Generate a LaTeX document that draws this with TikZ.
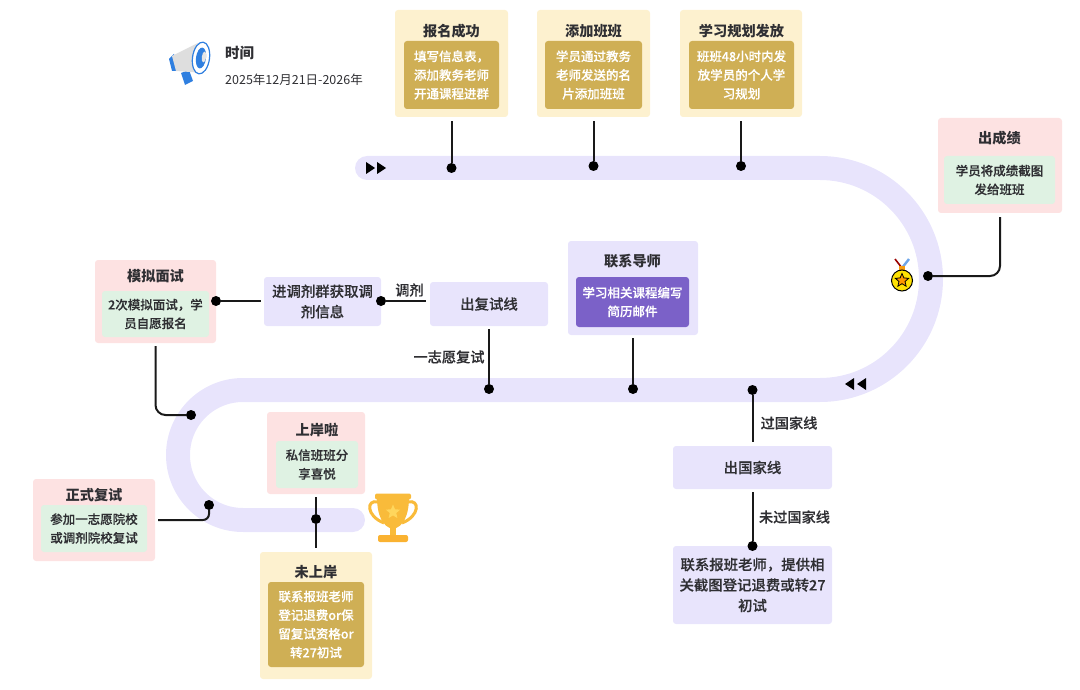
\documentclass[tikz,border=0pt]{standalone}
\usepackage{fontspec}
\setmainfont{Noto Sans CJK SC}
\newfontfamily\medfont{Noto Sans CJK SC Medium}[FakeBold=0.25]
\usepackage{xcolor}
\usetikzlibrary{positioning,shapes.geometric}
\definecolor{creamfill}{HTML}{FDF1CF}
\definecolor{goldfill}{HTML}{CFAF55}
\definecolor{rosefill}{HTML}{FDE2E2}
\definecolor{mintfill}{HTML}{DFF2E3}
\definecolor{lilacfill}{HTML}{E8E4FC}
\definecolor{violetfill}{HTML}{7B61C8}
\definecolor{inkgray}{HTML}{2F2F33}
\definecolor{cupgold}{HTML}{F9BB3A}
\definecolor{cuplight}{HTML}{FFD65C}
\definecolor{hornblue}{HTML}{2F7FE0}
\tikzset{
  panel/.style={rounded corners=3pt, inner sep=0pt},
  cream/.style={panel, fill=creamfill},
  rose/.style={panel, fill=rosefill},
  lilac/.style={panel, fill=lilacfill, align=center, text=inkgray, font=\fontsize{14.4}{20.5}\selectfont\medfont},
  body/.style={rounded corners=3pt, inner sep=0pt, align=center, font=\fontsize{12.5}{18.7}\selectfont\medfont},
  goldbody/.style={body, fill=goldfill, text=white},
  mintbody/.style={body, fill=mintfill, text=inkgray},
  violetbody/.style={body, fill=violetfill, text=white},
  boxtitle/.style={inner sep=0pt, text=inkgray, font=\fontsize{14.2}{16}\selectfont\bfseries},
  flowlabel/.style={inner sep=0pt, text=inkgray, font=\fontsize{14.2}{16}\selectfont\medfont},
  link/.style={line width=2pt, black!90},
  dot/.style={circle, fill=black, minimum size=10pt, inner sep=0pt},
  track/.style={line width=24pt, lilacfill, line cap=round}
}
\begin{document}
\begin{tikzpicture}[x=1pt,y=-1pt]
\useasboundingbox (0,0) rectangle (1080,690);
\draw[track] (367,168) -- (820,168) arc (-90:90:111) -- (243,390) arc (-90:-270:65) -- (353,520);
\foreach \x in {366,377} \fill[black] (\x,162) -- (\x+9,168) -- (\x,174) -- cycle;
\foreach \x in {854,866} \fill[black] (\x,378) -- (\x-9,384) -- (\x,390) -- cycle;

\node[cream, minimum width=113pt, minimum height=107pt] (signup) at (451.5,63.5) {};
\node[goldbody, minimum width=95pt, minimum height=68pt] (signupbody) at (451.5,75) {填写信息表，\\添加教务老师\\开通课程进群};
\node[boxtitle, above=3pt of signupbody] (signuptitle) {报名成功};
\node[cream, minimum width=113pt, minimum height=107pt] (addtutor) at (593.5,63.5) {};
\node[goldbody, minimum width=97pt, minimum height=68pt] (addtutorbody) at (593.5,75) {学员通过教务\\老师发送的名\\片添加班班};
\node[boxtitle, above=3pt of addtutorbody] (addtutortitle) {添加班班};
\node[cream, minimum width=122pt, minimum height=107pt] (plan) at (741,63.5) {};
\node[goldbody, minimum width=105pt, minimum height=68pt] (planbody) at (741.5,75) {班班48小时内发\\放学员的个人学\\习规划};
\node[boxtitle, above=3pt of planbody] (plantitle) {学习规划发放};

\node[rose, minimum width=124pt, minimum height=95pt] (score) at (1000,165.5) {};
\node[mintbody, minimum width=111pt, minimum height=48pt] (scorebody) at (999.5,180) {学员将成绩截图\\发给班班};
\node[boxtitle, above=11pt of scorebody] (scoretitle) {出成绩};

\node[panel, fill=lilacfill, minimum width=130pt, minimum height=94pt] (mentor) at (633,288) {};
\node[violetbody, minimum width=113pt, minimum height=50pt] (mentorbody) at (632.5,302) {学习相关课程编写\\简历邮件};
\node[boxtitle, above=9pt of mentorbody] (mentortitle) {联系导师};

\node[lilac, minimum width=118pt, minimum height=44pt] (retest) at (489,304) {出复试线};
\node[lilac, minimum width=117pt, minimum height=49pt] (adjust) at (322.5,301.5) {进调剂群获取调\\剂信息};
\node[rose, minimum width=121pt, minimum height=83pt] (mock) at (155.5,301.5) {};
\node[mintbody, minimum width=107pt, minimum height=46pt] (mockbody) at (155.5,314) {2次模拟面试，学\\员自愿报名};
\node[boxtitle, above=8pt of mockbody] (mocktitle) {模拟面试};

\node[rose, minimum width=98pt, minimum height=82pt] (ashore) at (316,453) {};
\node[mintbody, minimum width=82pt, minimum height=47pt] (ashorebody) at (317,464.5) {私信班班分\\享喜悦};
\node[boxtitle, above=4pt of ashorebody] (ashoretitle) {上岸啦};
\node[cream, minimum width=112pt, minimum height=127pt] (notashore) at (316,615.5) {};
\node[goldbody, minimum width=96pt, minimum height=85pt] (notashorebody) at (316,624.5) {联系报班老师\\登记退费or保\\留复试资格or\\转27初试};
\node[boxtitle, above=3pt of notashorebody] (notashoretitle) {未上岸};
\node[rose, minimum width=122pt, minimum height=82pt] (formal) at (94,520) {};
\node[mintbody, minimum width=106pt, minimum height=47pt] (formalbody) at (94,528.5) {参加一志愿院校\\或调剂院校复试};
\node[boxtitle, above=3pt of formalbody] (formaltitle) {正式复试};

\node[lilac, minimum width=159pt, minimum height=43pt] (national) at (752.5,467.5) {出国家线};
\node[lilac, minimum width=159pt, minimum height=78pt] (refund) at (752.5,585) {联系报班老师，提供相\\关截图登记退费或转27\\初试};

\node[flowlabel] (adjustlabel) at (409.5,290) {调剂};
\node[flowlabel] (firstlabel) at (449,357) {一志愿复试};
\node[flowlabel] (passlabel) at (789,423) {过国家线};
\node[flowlabel] (faillabel) at (794.5,517) {未过国家线};

\node[dot] (signupdot) at (451.5,168) {};
\node[dot] (addtutordot) at (593.5,166) {};
\node[dot] (plandot) at (741,166) {};
\node[dot] (scoredot) at (928,276) {};
\node[dot] (mentordot) at (633,389) {};
\node[dot] (retestdot) at (489,389) {};
\node[dot] (passdot) at (752.5,390) {};
\node[dot] (refunddot) at (752.5,546) {};
\node[dot] (adjustdot) at (381,301) {};
\node[dot] (mockdot) at (216,301) {};
\node[dot] (turndot) at (191,415) {};
\node[dot] (formaldot) at (209,505) {};
\node[dot] (ashoredot) at (316,519) {};
\coordinate (adjustend) at (426,301);
\coordinate (mockend) at (261,301);

\draw[link, shorten <=4pt] (signup.south) -- (signupdot);
\draw[link, shorten <=4pt] (addtutor.south) -- (addtutordot);
\draw[link, shorten <=4pt] (plan.south) -- (plandot);
\draw[link, shorten <=4pt, rounded corners=10pt] (score.south) |- (scoredot);
\draw[link, shorten <=3pt] (mentor.south) -- (mentordot);
\draw[link, shorten <=3pt] (retest.south) -- (retestdot);
\draw[link] (adjustdot) -- (adjustend);
\draw[link] (mockdot) -- (mockend);
\draw[link, shorten <=3pt, rounded corners=10pt] (mock.south) |- (turndot);
\draw[link, shorten <=3pt, rounded corners=6pt] (formal.east) -| (formaldot);
\draw[link, shorten <=3pt] (ashore.south) -- (ashoredot);
\draw[link, shorten >=4pt] (ashoredot) -- (notashore.north);
\draw[link, shorten >=4pt] (passdot) -- (national.north);
\draw[link, shorten <=3pt] (national.south) -- (refunddot);

\node[inner sep=0pt, anchor=west, text=inkgray, font=\fontsize{14.5}{16}\selectfont\bfseries] (timetitle) at (225,53) {时间};
\node[inner sep=0pt, anchor=west, text=inkgray, font=\fontsize{12.5}{16}\selectfont] (timetext) at (225,80) {2025年12月21日-2026年};

\fill[hornblue] (169,59) -- (174,54) -- (179,71) -- (172,71) -- cycle;
\fill[hornblue] (181,73) -- (189,70) -- (193,81) -- (185,85) -- cycle;
\fill[black!13] (172,56) -- (198,43) -- (204,73) -- (176,71) -- cycle;
\fill[white, rotate around={-8:(201,58)}] (201,58) ellipse [x radius=8.5, y radius=16];
\draw[hornblue, line width=1.2pt, rotate around={-8:(201,58)}] (201,58) ellipse [x radius=8.5, y radius=16];
\fill[hornblue, rotate around={-8:(201,58)}] (201,58) ellipse [x radius=5, y radius=10.5];
\fill[black!10, rotate around={-8:(204,57)}] (204,57) ellipse [x radius=2.2, y radius=5.5];

\draw[cupgold, line width=3pt] (378,502) .. controls (366,499) and (366,516) .. (384,523);
\draw[cupgold, line width=3pt] (408,502) .. controls (420,499) and (420,516) .. (402,523);
\fill[cupgold] (377,497) -- (409,497) .. controls (409,516) and (403,527) .. (393,529) .. controls (383,527) and (377,516) .. (377,497) -- cycle;
\fill[cupgold, rounded corners=2pt] (375,493.5) rectangle (411,499.5);
\fill[cupgold] (390,527) rectangle (396,536);
\fill[cupgold!85!orange, rounded corners=2pt] (378,535) rectangle (408,542);
\node[star, star points=5, star point ratio=2.2, fill=cuplight, minimum size=15pt, inner sep=0pt] (cupstar) at (393,512) {};

\draw[red!60!black, line width=1.6pt] (895,259) -- (902,268);
\draw[hornblue!70, line width=2.4pt] (909,259) -- (902,268);
\fill[yellow!20!orange] (899,266) rectangle (905,272);
\draw[black, line width=1pt, fill=yellow!85!orange] (902,280.5) circle (10.5);
\node[star, star points=5, star point ratio=2.2, draw=black, line width=0.8pt, fill=orange!80!yellow, minimum size=14pt, inner sep=0pt] (medalstar) at (902,280.5) {};
\end{tikzpicture}
\end{document}
